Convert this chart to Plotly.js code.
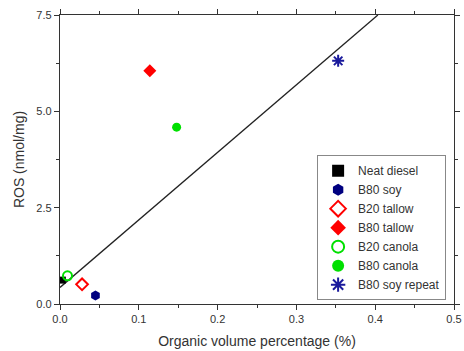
<!DOCTYPE html>
<html><head><meta charset="utf-8">
<script src="https://cdn.plot.ly/plotly-3.0.1.min.js"></script>
<style>html,body{margin:0;padding:0;background:#fff}#chart{width:464px;height:351px}</style>
</head><body><div id="chart"></div>
<script>
const seriesNames = ["Neat diesel","B80 soy","B20 tallow","B80 tallow","B20 canola","B80 canola","B80 soy repeat"];
const seriesX = [0.003, 0.045, 0.028, 0.114, 0.0095, 0.148, 0.353];
const seriesY = [0.62, 0.22, 0.51, 6.05, 0.73, 4.59, 6.31];
const fitX = [0, 0.4034];
const fitY = [0.43, 7.5];
const xTicks = [0, 0.1, 0.2, 0.3, 0.4, 0.5];
const xTickText = ["0.0","0.1","0.2","0.3","0.4","0.5"];
const yTicks = [0, 2.5, 5, 7.5];
const yTickText = ["0.0","2.5","5.0","7.5"];

const styles = [
  {symbol:"square", color:"#000000", size:7, line:{width:0}},
  {symbol:"hexagon", color:"#000080", size:10, line:{width:0}},
  {symbol:"diamond-open", color:"#ff0000", size:9, line:{width:2, color:"#ff0000"}},
  {symbol:"diamond", color:"#ff0000", size:10, line:{width:0}},
  {symbol:"circle-open", color:"#00e000", size:9, line:{width:2, color:"#00e000"}},
  {symbol:"circle", color:"#00e000", size:9, line:{width:0}},
  {symbol:"asterisk-open", color:"#1a1a9c", size:10, line:{width:2, color:"#1a1a9c"}}
];

const traces = [{
  x: fitX, y: fitY, mode: "lines", line:{color:"#222", width:1.3},
  showlegend:false, hoverinfo:"skip"
}];
seriesNames.forEach((n,i)=>{
  traces.push({x:[seriesX[i]], y:[seriesY[i]], mode:"markers", name:n, type:"scatter",
    marker:{symbol:styles[i].symbol, color:styles[i].color, size:styles[i].size, line:styles[i].line}});
});
const axisCommon = {
  showline:true, linecolor:"#333", linewidth:1.2, mirror:"ticks",
  ticks:"outside", ticklen:5, tickcolor:"#333", tickwidth:1,
  showgrid:false, zeroline:false,
  tickfont:{family:"Liberation Sans, Arial, sans-serif", size:11, color:"#333"}
};
const layout = {
  width:464, height:351,
  margin:{l:60, r:10, t:15, b:47},
  paper_bgcolor:"#fff", plot_bgcolor:"#fff",
  font:{family:"Liberation Sans, Arial, sans-serif", size:11, color:"#333"},
  xaxis: Object.assign({}, axisCommon, {
    range:[0,0.5], tickvals:xTicks, ticktext:xTickText,
    minor:{dtick:0.05, ticklen:3, tickcolor:"#333", ticks:"outside"},
    title:{text:"Organic volume percentage (%)", font:{size:14, color:"#333"}, standoff:11}
  }),
  yaxis: Object.assign({}, axisCommon, {
    range:[0,7.5], tickvals:yTicks, ticktext:yTickText,
    minor:{dtick:1.25, ticklen:3, tickcolor:"#333", ticks:"outside"},
    title:{text:"ROS (nmol/mg)", font:{size:14, color:"#333"}, standoff:8}
  }),
  legend:{x:0.98, y:0.515, xanchor:"right", yanchor:"top",
    bordercolor:"#888", borderwidth:1, bgcolor:"#fff",
    font:{size:12, color:"#333"}, tracegroupgap:0, itemsizing:"constant", itemwidth:30},
  showlegend:true
};
Plotly.newPlot("chart", traces, layout, {displayModeBar:false, staticPlot:true});
</script></body></html>
